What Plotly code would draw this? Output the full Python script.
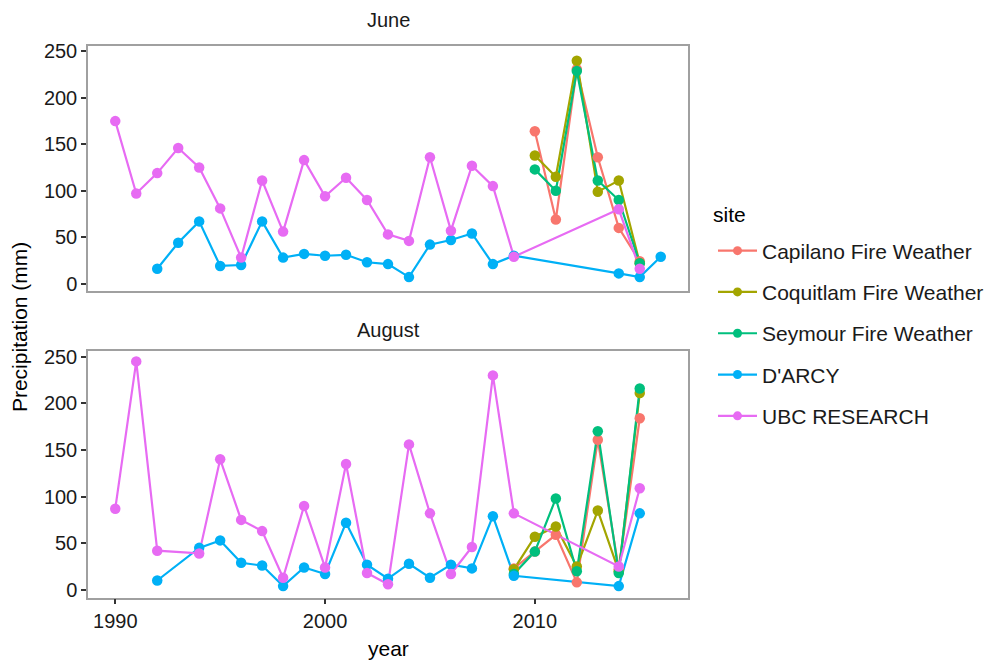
import plotly.graph_objects as go

# ---------------- data ----------------
sites = ["Capilano Fire Weather", "Coquitlam Fire Weather", "Seymour Fire Weather",
         "D'ARCY", "UBC RESEARCH"]
colors = ["#F8766D", "#A3A500", "#00BF7D", "#00B0F6", "#E76BF3"]

# June
jun_capilano_years = [2010, 2011, 2012, 2013, 2014, 2015]
jun_capilano = [164, 69, 231, 136, 60, 24]
jun_coquitlam_years = [2010, 2011, 2012, 2013, 2014, 2015]
jun_coquitlam = [138, 115, 240, 99, 111, 22]
jun_seymour_years = [2010, 2011, 2012, 2013, 2014, 2015]
jun_seymour = [123, 100, 229, 111, 90, 22]
jun_darcy_years = list(range(1992, 2010)) + [2014, 2015, 2016]
jun_darcy = [16, 44, 67, 19, 20, 67, 28, 32, 30, 31, 23, 21, 7, 42, 47, 54, 21, 30, 11, 7, 29]
jun_ubc_years = list(range(1990, 2010)) + [2014, 2015]
jun_ubc = [175, 97, 119, 146, 125, 81, 28, 111, 56, 133, 94, 114, 90, 53, 46, 136, 57, 127,
           105, 29, 80, 16]

# August
aug_capilano_years = [2009, 2010, 2011, 2012, 2013, 2014, 2015]
aug_capilano = [23, 41, 59, 8, 161, 22, 184]
aug_coquitlam_years = [2009, 2010, 2011, 2012, 2013, 2014, 2015]
aug_coquitlam = [22, 57, 68, 25, 85, 20, 211]
aug_seymour_years = [2009, 2010, 2011, 2012, 2013, 2014, 2015]
aug_seymour = [17, 41, 98, 20, 170, 18, 216]
aug_darcy_years = [1992] + list(range(1994, 2010)) + [2014, 2015]
aug_darcy = [10, 45, 53, 29, 26, 4, 24, 17, 72, 27, 12, 28, 13, 27, 23, 79, 15, 4, 82]
aug_ubc_years = [1990, 1991, 1992] + list(range(1994, 2010)) + [2014, 2015]
aug_ubc = [87, 245, 42, 39, 140, 75, 63, 13, 90, 24, 135, 18, 6, 156, 82, 17, 46, 230, 82,
           25, 109]

panels = ["June", "August"]
y_ticks = [0, 50, 100, 150, 200, 250]
x_ticks = [1990, 2000, 2010]

june = [(jun_capilano_years, jun_capilano), (jun_coquitlam_years, jun_coquitlam),
        (jun_seymour_years, jun_seymour), (jun_darcy_years, jun_darcy),
        (jun_ubc_years, jun_ubc)]
august = [(aug_capilano_years, aug_capilano), (aug_coquitlam_years, aug_coquitlam),
          (aug_seymour_years, aug_seymour), (aug_darcy_years, aug_darcy),
          (aug_ubc_years, aug_ubc)]

# ---------------- figure ----------------
FONT = "Liberation Sans, Arial, Helvetica, sans-serif"
TXT = "#1a1a1a"
fig = go.Figure()

for data, xa, ya in [(june, "x", "y"), (august, "x2", "y2")]:
    # lines first (ggplot geom_line), then points on top (geom_point)
    for (yrs, vals), col in zip(data, colors):
        fig.add_trace(go.Scatter(x=yrs, y=vals, mode="lines", xaxis=xa, yaxis=ya,
                                 line=dict(color=col, width=2.2), showlegend=False,
                                 hoverinfo="skip"))
    for (yrs, vals), col, name in zip(data, colors, sites):
        fig.add_trace(go.Scatter(x=yrs, y=vals, mode="markers", xaxis=xa, yaxis=ya,
                                 marker=dict(color=col, size=10.5), showlegend=False,
                                 name=name))

# legend entries
for col, name in zip(colors, sites):
    fig.add_trace(go.Scatter(x=[None], y=[None], mode="lines+markers", name=name,
                             legendgroup=name, line=dict(color=col, width=2.2),
                             marker=dict(color=col, size=9)))

yr = [-8.5, 256.4]
xr = [1988.7, 2017.3]
xdom = [88 / 990, 688 / 990]
H = 662

base_axis = dict(showgrid=False, zeroline=False, showline=True, linecolor="#a0a0a0",
                 linewidth=1.5, mirror=True,
                 tickfont=dict(family=FONT, size=20, color=TXT))
tick_style = dict(tickcolor="#333333", ticklen=5, tickwidth=2, ticks="outside")

fig.update_layout(
    width=990, height=662,
    margin=dict(l=0, r=0, t=0, b=0),
    paper_bgcolor="white", plot_bgcolor="white",
    font=dict(family=FONT, color=TXT),
    xaxis=dict(domain=xdom, range=xr, anchor="y", tickvals=x_ticks, showticklabels=False,
               ticks="", **base_axis),
    yaxis=dict(domain=[1 - 290 / H, 1 - 41 / H], range=yr, anchor="x", tickvals=y_ticks,
               **base_axis, **tick_style),
    xaxis2=dict(domain=xdom, range=xr, anchor="y2", tickvals=x_ticks,
                **base_axis, **tick_style),
    yaxis2=dict(domain=[1 - 600 / H, 1 - 350 / H], range=yr, anchor="x2", tickvals=y_ticks,
                **base_axis, **tick_style),
    legend=dict(x=713 / 990, xanchor="left", y=1 - 332.5 / H, yanchor="middle",
                font=dict(family=FONT, size=21, color=TXT), itemwidth=39,
                tracegroupgap=11, bgcolor="rgba(0,0,0,0)"),
    annotations=[
        dict(text=panels[0], x=388 / 990, y=1 - 15 / H, xref="paper", yref="paper",
             xanchor="center", yanchor="middle", showarrow=False,
             font=dict(family=FONT, size=20, color=TXT)),
        dict(text=panels[1], x=388 / 990, y=1 - 329 / H, xref="paper", yref="paper",
             xanchor="center", yanchor="middle", showarrow=False,
             font=dict(family=FONT, size=20, color=TXT)),
        dict(text="year", x=388 / 990, y=1 - 651 / H, xref="paper", yref="paper",
             xanchor="center", yanchor="middle", showarrow=False,
             font=dict(family=FONT, size=21, color="#000000")),
        dict(text="Precipitation (mm)", x=19 / 990, y=1 - 326 / H, xref="paper",
             yref="paper", xanchor="center", yanchor="middle", showarrow=False,
             textangle=-90, font=dict(family=FONT, size=21, color="#000000")),
        dict(text="site", x=711 / 990, y=1 - 212 / H, xref="paper", yref="paper",
             xanchor="left", yanchor="middle", showarrow=False,
             font=dict(family=FONT, size=21, color="#000000")),
    ],
)

fig.write_html("out.html")
